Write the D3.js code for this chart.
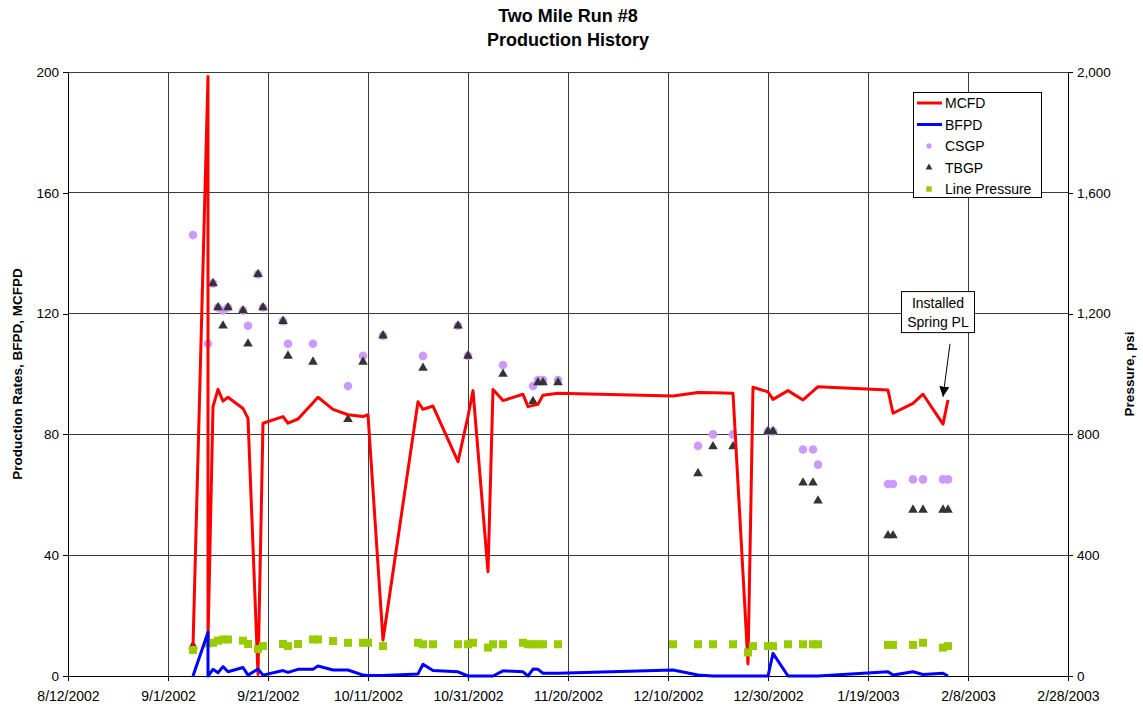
<!DOCTYPE html>
<html>
<head>
<meta charset="utf-8">
<script src="https://cdn.jsdelivr.net/npm/d3@7"></script>
<style>
  html, body { margin: 0; padding: 0; background: #fff; }
  svg { display: block; font-family: "Liberation Sans", Arial, sans-serif; }
</style>
</head>
<body>
<svg id="chart" width="1143" height="712"></svg>
<script>
// Daily production (left axis): gas in MCFD, fluid in BFPD
const prodDates = [
  "2002-09-06","2002-09-09","2002-09-09","2002-09-10","2002-09-11","2002-09-12","2002-09-13",
  "2002-09-16","2002-09-17","2002-09-19","2002-09-20","2002-09-24","2002-09-25","2002-09-27",
  "2002-09-30","2002-10-01","2002-10-04","2002-10-07","2002-10-10","2002-10-11","2002-10-14",
  "2002-10-21","2002-10-22","2002-10-24","2002-10-29","2002-10-31","2002-11-01","2002-11-04",
  "2002-11-05","2002-11-07","2002-11-11","2002-11-12","2002-11-13","2002-11-14","2002-11-15",
  "2002-11-18","2002-12-11","2002-12-16","2002-12-19","2002-12-23","2002-12-26","2002-12-27",
  "2002-12-30","2002-12-31","2003-01-03","2003-01-06","2003-01-08","2003-01-09","2003-01-23",
  "2003-01-24","2003-01-28","2003-01-30","2003-02-03","2003-02-04"
];
const mcfd = [
  9.7, 198.5, 12, 89.2, 94.9, 91, 92.3,
  88.6, 85.3, 0.5, 83.7, 85.9, 83.7, 85.1,
  90.5, 92.3, 88.3, 86.5, 85.9, 86.5, 11.9,
  90.8, 88.3, 89.4, 71, 86, 94.5, 34.5,
  94.9, 91.2, 93.3, 89.2, 89.6, 90, 93,
  93.6, 92.7, 93.9, 93.8, 93.6, 4, 95.6,
  94.1, 91.6, 94.5, 91.4, 94.3, 95.8, 94.7,
  87, 90.3, 93.3, 83.4, 91.4
];
const bfpd = [
  0, 14.5, 0, 2.2, 1.1, 3.1, 1.4,
  2.8, 0.3, 2.3, 0.3, 1.8, 1.2, 2.2,
  2.2, 3.3, 2.0, 2.0, 0.3, 0.2, 0.2,
  0.7, 3.9, 1.8, 1.4, 0, 0, 0,
  0, 1.7, 1.4, 0, 2.3, 2.2, 0.9,
  0.9, 2.0, 0.3, 0, 0, 0, 0,
  0, 7.5, 0, 0, 0, 0, 1.4,
  0.3, 1.4, 0.5, 0.9, 0
];

// Pressure readings (right axis, psi); null where no reading was taken
const pressDates = [
  "2002-09-06","2002-09-09","2002-09-10","2002-09-11","2002-09-12","2002-09-13","2002-09-16",
  "2002-09-17","2002-09-19","2002-09-20","2002-09-24","2002-09-25","2002-09-27","2002-09-30",
  "2002-10-01","2002-10-04","2002-10-07","2002-10-10","2002-10-11","2002-10-14","2002-10-21",
  "2002-10-22","2002-10-24","2002-10-29","2002-10-31","2002-11-01","2002-11-04","2002-11-05",
  "2002-11-07","2002-11-11","2002-11-12","2002-11-13","2002-11-14","2002-11-15","2002-11-18",
  "2002-12-11","2002-12-16","2002-12-19","2002-12-23","2002-12-26","2002-12-27","2002-12-30",
  "2002-12-31","2003-01-03","2003-01-06","2003-01-08","2003-01-09","2003-01-23","2003-01-24",
  "2003-01-28","2003-01-30","2003-02-03","2003-02-04"
];
const csgp = [
  1460, 1100, 1300, 1220, 1210, 1220, 1210,
  1160, 1330, 1220, 1175, 1100, null, 1100,
  null, null, 960, 1060, null, 1127, null,
  1060, null, 1160, 1060, null, null, null,
  1030, null, null, 960, 980, 980, 980,
  null, 762, 800, 800, null, null, 810,
  810, null, 750, 750, 700, 636, 636,
  651, 651, 651, 651
];
const tbgp = [
  100, null, 1300, 1220, 1160, 1220, 1210,
  1100, 1330, 1220, 1175, 1060, null, 1040,
  null, null, 850, 1040, null, 1127, null,
  1020, null, 1160, 1060, null, null, null,
  1000, null, null, 910, 972, 972, 972,
  null, 671, 760, 760, null, null, 810,
  810, null, 640, 640, 580, 465, 465,
  550, 550, 550, 550
];
const linePressure = [
  86, 108, 110, 117, 121, 121, 117,
  106, 89, 99, 106, 99, 106, 121,
  121, 116, 110, 110, 110, 99, 110,
  105, 105, 105, 105, 110, 94, 105,
  105, 110, 105, 105, 105, 105, 105,
  105, 105, 105, 105, 78, 99, 99,
  99, 105, 105, 105, 105, 103, 103,
  103, 110, 94, 99
];

// Axis ticks
const dateTicks = ["2002-08-12","2002-09-01","2002-09-21","2002-10-11","2002-10-31","2002-11-20",
                   "2002-12-10","2002-12-30","2003-01-19","2003-02-08","2003-02-28"];
const rateTicks = [0, 40, 80, 120, 160, 200];
const psiTicks = [0, 400, 800, 1200, 1600, 2000];

// Callout
const noteLines = ["Installed", "Spring PL"];
const noteBox = { date: "2003-02-02", value: 120.5 };
const noteTail = { date: "2003-02-04", value: 110 };
const noteTip = { date: "2003-02-03", value: 92.5 };

const parse = d3.utcParse("%Y-%m-%d");
const fmtDate = d3.utcFormat("%-m/%-d/%Y");

const margin = { left: 68, right: 75, top: 72, bottom: 36 };
const W = 1143, H = 712;
const svg = d3.select("#chart");

const x = d3.scaleUtc()
  .domain([parse(dateTicks[0]), parse(dateTicks[dateTicks.length - 1])])
  .range([margin.left, W - margin.right]);
const yL = d3.scaleLinear().domain([0, 200]).range([H - margin.bottom, margin.top]);
const yR = d3.scaleLinear().domain([0, 2000]).range([H - margin.bottom, margin.top]);

const x0 = x.range()[0], x1 = x.range()[1];
const yb = yL.range()[0], yt = yL.range()[1];

// Grid
const grid = svg.append("g").attr("shape-rendering", "crispEdges");
grid.selectAll("line.h").data(rateTicks).join("line")
  .attr("x1", x0).attr("x2", x1)
  .attr("y1", d => yL(d)).attr("y2", d => yL(d))
  .attr("stroke", "#3a3a3a").attr("stroke-width", 1);
grid.selectAll("line.v").data(dateTicks).join("line")
  .attr("x1", d => x(parse(d))).attr("x2", d => x(parse(d)))
  .attr("y1", yt).attr("y2", yb)
  .attr("stroke", "#3a3a3a").attr("stroke-width", 1);

// Axes
const axB = svg.append("g").attr("transform", `translate(0,${yb})`)
  .call(d3.axisBottom(x).tickValues(dateTicks.map(parse)).tickFormat(fmtDate).tickSize(5).tickSizeOuter(0));
const axL = svg.append("g").attr("transform", `translate(${x0},0)`)
  .call(d3.axisLeft(yL).tickValues(rateTicks).tickFormat(d3.format("d")).tickSize(5).tickSizeOuter(0));
const axR = svg.append("g").attr("transform", `translate(${x1},0)`)
  .call(d3.axisRight(yR).tickValues(psiTicks).tickFormat(d3.format(",")).tickSize(5).tickSizeOuter(0));
[axB, axL, axR].forEach(a => {
  a.selectAll("path.domain").attr("stroke", "#000").attr("shape-rendering", "crispEdges");
  a.selectAll(".tick line").attr("stroke", "#000").attr("shape-rendering", "crispEdges");
  a.selectAll("text").attr("font-size", "13.5px").attr("fill", "#000")
    .attr("font-family", "\"Liberation Sans\", Arial, sans-serif");
});
axB.selectAll("text").attr("font-size", "14px").attr("dy", "1.2em");
axL.selectAll("text").attr("x", -9);
axR.selectAll("text").attr("x", 9);

// Titles
svg.append("text").attr("x", (x0 + x1) / 2).attr("y", 22).attr("text-anchor", "middle")
  .attr("font-weight", "bold").attr("font-size", "18px").text("Two Mile Run #8");
svg.append("text").attr("x", (x0 + x1) / 2).attr("y", 46).attr("text-anchor", "middle")
  .attr("font-weight", "bold").attr("font-size", "18px").text("Production History");
svg.append("text")
  .attr("transform", `translate(22,${(yt + yb) / 2}) rotate(-90)`)
  .attr("text-anchor", "middle").attr("font-weight", "bold").attr("font-size", "13.5px")
  .text("Production Rates, BFPD, MCFPD");
svg.append("text")
  .attr("transform", `translate(1134,${(yt + yb) / 2}) rotate(-90)`)
  .attr("text-anchor", "middle").attr("font-weight", "bold").attr("font-size", "13.5px")
  .text("Pressure, psi");

// Series
const prod = prodDates.map((d, i) => ({ date: parse(d), mcfd: mcfd[i], bfpd: bfpd[i] }));
const press = pressDates.map((d, i) => ({ date: parse(d), csgp: csgp[i], tbgp: tbgp[i], lp: linePressure[i] }));

const plot = svg.append("g");

const symCircle = d3.symbol().type(d3.symbolCircle).size(58);
const symTri = d3.symbol().type(d3.symbolTriangle).size(40);
const symSq = d3.symbol().type(d3.symbolSquare).size(64);

plot.selectAll("path.csgp").data(press.filter(d => d.csgp != null)).join("path")
  .attr("class", "csgp")
  .attr("transform", d => `translate(${x(d.date)},${yR(d.csgp)})`)
  .attr("d", symCircle).attr("fill", "#CC99FF");
plot.selectAll("path.tbgp").data(press.filter(d => d.tbgp != null)).join("path")
  .attr("class", "tbgp")
  .attr("transform", d => `translate(${x(d.date)},${yR(d.tbgp)})`)
  .attr("d", symTri).attr("fill", "#333333");

const lineMcfd = d3.line().x(d => x(d.date)).y(d => yL(d.mcfd));
const lineBfpd = d3.line().x(d => x(d.date)).y(d => yL(d.bfpd));
plot.append("path").datum(prod).attr("d", lineMcfd)
  .attr("fill", "none").attr("stroke", "#FF0000").attr("stroke-width", 3).attr("stroke-linejoin", "round");

plot.selectAll("path.lp").data(press.filter(d => d.lp != null)).join("path")
  .attr("class", "lp")
  .attr("transform", d => `translate(${x(d.date)},${yR(d.lp)})`)
  .attr("d", symSq).attr("fill", "#99CC00");

plot.append("path").datum(prod).attr("d", lineBfpd)
  .attr("fill", "none").attr("stroke", "#0000FF").attr("stroke-width", 3).attr("stroke-linejoin", "round");

// Legend
const legendItems = [
  { label: "MCFD", kind: "line", color: "#FF0000" },
  { label: "BFPD", kind: "line", color: "#0000FF" },
  { label: "CSGP", kind: "circle", color: "#CC99FF" },
  { label: "TBGP", kind: "tri", color: "#333333" },
  { label: "Line Pressure", kind: "square", color: "#99CC00" }
];
const lg = svg.append("g").attr("transform", "translate(913,92)");
lg.append("rect").attr("x", 0.5).attr("y", 0.5).attr("width", 128).attr("height", 105)
  .attr("fill", "#fff").attr("stroke", "#000").attr("stroke-width", 1);
legendItems.forEach((it, i) => {
  const cy = 11 + i * 21.5;
  const g = lg.append("g").attr("transform", `translate(0,${cy})`);
  if (it.kind === "line") {
    g.append("line").attr("x1", 4).attr("x2", 29).attr("y1", 0).attr("y2", 0)
      .attr("stroke", it.color).attr("stroke-width", 3);
  } else {
    const t = it.kind === "circle" ? d3.symbolCircle : it.kind === "tri" ? d3.symbolTriangle : d3.symbolSquare;
    const s = it.kind === "circle" ? 22 : it.kind === "tri" ? 20 : 30;
    g.append("path").attr("transform", "translate(16,0)").attr("d", d3.symbol().type(t).size(s)).attr("fill", it.color);
  }
  g.append("text").attr("x", 32).attr("y", 0).attr("dy", "0.36em")
    .attr("font-size", "14px").text(it.label);
});

// Callout with arrow
const defs = svg.append("defs");
defs.append("marker").attr("id", "arrowhead").attr("viewBox", "0 0 10 10")
  .attr("refX", 10).attr("refY", 5).attr("markerWidth", 10).attr("markerHeight", 10)
  .attr("markerUnits", "userSpaceOnUse").attr("orient", "auto")
  .append("path").attr("d", "M0,0 L10,5 L0,10 Z").attr("fill", "#000");

const bx = x(parse(noteBox.date)), by = yL(noteBox.value);
const note = svg.append("g");
note.append("rect").attr("x", bx - 36.5).attr("y", by - 20.5).attr("width", 73).attr("height", 41)
  .attr("fill", "#fff").attr("stroke", "#000").attr("stroke-width", 1);
noteLines.forEach((t, i) => {
  note.append("text").attr("x", bx).attr("y", by - 9 + i * 19).attr("dy", "0.36em")
    .attr("text-anchor", "middle").attr("font-size", "14px").text(t);
});
note.append("line")
  .attr("x1", x(parse(noteTail.date)) + 2).attr("y1", yL(noteTail.value))
  .attr("x2", x(parse(noteTip.date))).attr("y2", yL(noteTip.value))
  .attr("stroke", "#000").attr("stroke-width", 1).attr("marker-end", "url(#arrowhead)");
</script>
</body>
</html>
